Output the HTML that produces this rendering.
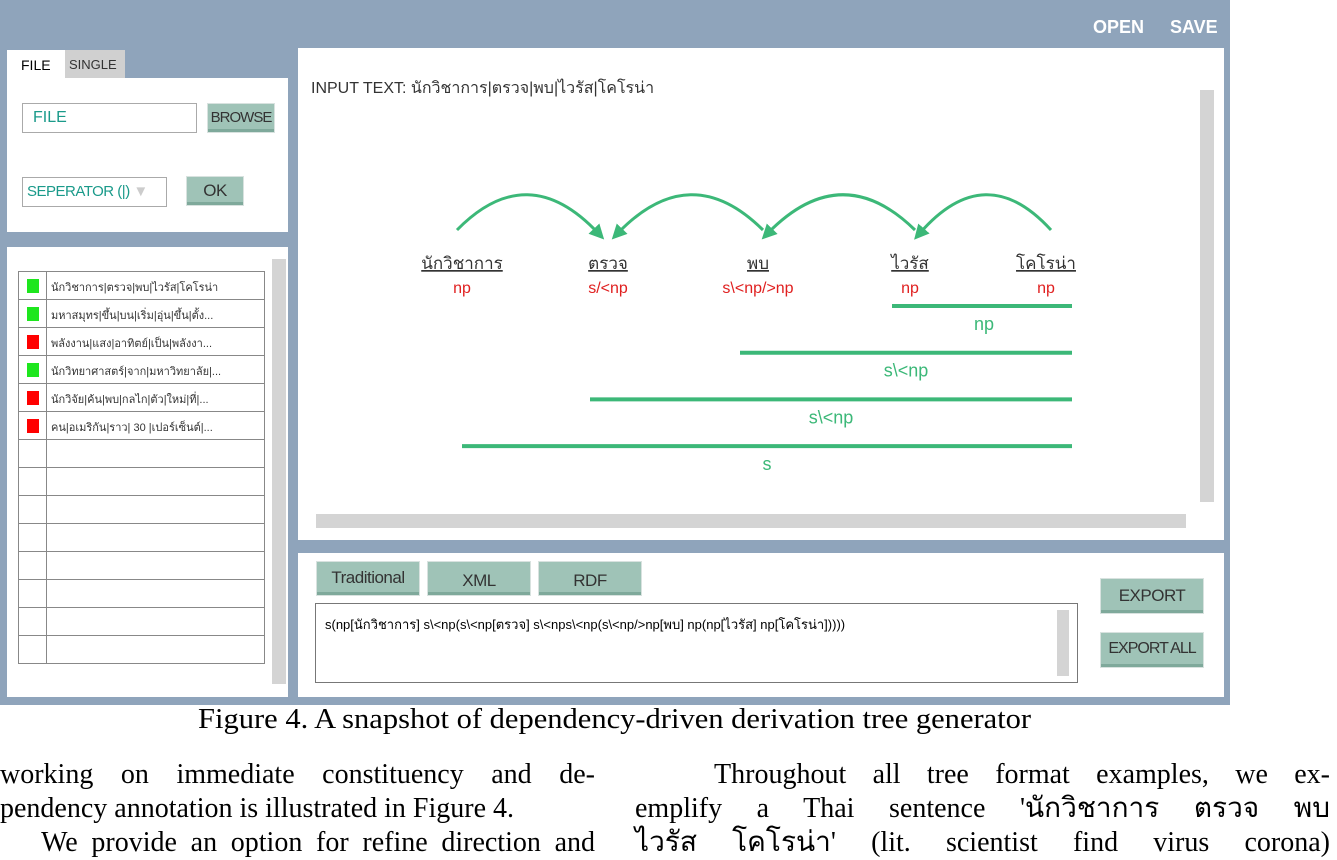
<!DOCTYPE html>
<html><head><meta charset="utf-8"><style>
body{margin:0;width:1337px;height:836px;background:#fff;position:relative;overflow:hidden;font-family:"Liberation Sans","Noto Sans CJK SC",sans-serif}
.a{position:absolute;box-sizing:border-box}
.btn{background:#9fc3b7;border:1px solid #d8e2df;color:#333;font-size:17px;text-align:center;box-shadow:inset 0 -3px 0 #7fa99b;white-space:nowrap;letter-spacing:-0.5px}
.serif{font-family:"Liberation Serif","Noto Serif CJK SC",serif;color:#000}
.row{position:absolute;box-sizing:border-box;left:11px;width:247px;height:29px;border:1px solid #888;font-size:11px;background:#fff}
.jl{text-align:justify;text-align-last:justify;white-space:nowrap;height:34px}
</style></head><body>
<div class="a" style="left:0;top:0;width:1230px;height:705px;background:#8fa4bb"></div>
<div class="a" style="left:1093px;top:17px;color:#fff;font-size:18px;font-weight:bold">OPEN</div>
<div class="a" style="left:1170px;top:17px;color:#fff;font-size:18px;font-weight:bold">SAVE</div>
<div class="a" style="left:7px;top:50px;width:58px;height:28px;background:#fff;font-size:14px;padding:7px 0 0 14px">FILE</div>
<div class="a" style="left:65px;top:50px;width:60px;height:28px;background:#d0d0d0;font-size:13px;padding:7px 0 0 4px;color:#333">SINGLE</div>
<div class="a" style="left:7px;top:78px;width:281px;height:154px;background:#fff">
 <div class="a" style="left:15px;top:25px;width:175px;height:30px;border:1px solid #aaa;color:#1a9a8a;font-size:16px;padding:5px 10px">FILE</div>
 <div class="a btn" style="left:200px;top:25px;width:68px;height:30px;padding-top:5px;font-size:15px;letter-spacing:-1px">BROWSE</div>
 <div class="a" style="left:15px;top:99px;width:145px;height:30px;border:1px solid #aaa;color:#1a9a8a;font-size:15px;padding:5px 4px;white-space:nowrap;letter-spacing:-0.5px">SEPERATOR (|) <span style="color:#ccc">▼</span></div>
 <div class="a btn" style="left:179px;top:98px;width:58px;height:30px;padding-top:4px">OK</div>
</div>
<div class="a" style="left:7px;top:247px;width:281px;height:450px;background:#fff">
 <div class="a" style="left:265px;top:12px;width:14px;height:425px;background:#d4d4d4"></div>
 <div id="rows"></div>
</div>
<div class="a" style="left:298px;top:48px;width:926px;height:492px;background:#fff">
 <div class="a" style="left:13px;top:28px;font-size:16px;color:#333">INPUT TEXT: นักวิชาการ|ตรวจ|พบ|ไวรัส|โคโรน่า</div>
 <div class="a" style="left:902px;top:42px;width:14px;height:412px;background:#d4d4d4"></div>
 <div class="a" style="left:18px;top:466px;width:870px;height:14px;background:#d4d4d4"></div>
</div>
<svg class="a" id="tree" style="left:0;top:0" width="1230" height="540"></svg>
<div class="a" style="left:298px;top:553px;width:926px;height:144px;background:#fff">
 <div class="a btn" style="left:18px;top:8px;width:104px;height:35px;padding-top:6px">Traditional</div>
 <div class="a btn" style="left:129px;top:8px;width:104px;height:35px;padding-top:9px">XML</div>
 <div class="a btn" style="left:240px;top:8px;width:104px;height:35px;padding-top:9px">RDF</div>
 <div class="a" style="left:17px;top:50px;width:763px;height:80px;border:1px solid #777;font-size:13px;padding:10px 9px">s(np[นักวิชาการ] s\&lt;np(s\&lt;np[ตรวจ] s\&lt;nps\&lt;np(s\&lt;np/&gt;np[พบ] np(np[ไวรัส] np[โคโรน่า]))))
  <div class="a" style="right:8px;top:6px;width:12px;height:66px;background:#d4d4d4"></div></div>
 <div class="a btn" style="left:802px;top:25px;width:104px;height:36px;padding-top:7px">EXPORT</div>
 <div class="a btn" style="left:802px;top:79px;width:104px;height:36px;padding-top:7px;font-size:16px;letter-spacing:-1px">EXPORT ALL</div>
</div>
<div class="a serif" style="left:198px;top:704px;font-size:28px;white-space:nowrap;transform:scaleX(1.09);transform-origin:left top">Figure 4. A snapshot of dependency-driven derivation tree generator</div>
<div class="a serif" style="left:0;top:758px;width:595px;font-size:28px;line-height:34px">
 <div class="jl">working on immediate constituency and de-</div>
 <div style="white-space:nowrap;height:34px">pendency annotation is illustrated in Figure 4.</div>
 <div class="jl">&nbsp;&nbsp;&nbsp;We provide an option for refine direction and</div></div>
<div class="a serif" style="left:635px;top:758px;width:695px;font-size:28px;line-height:34px">
 <div class="jl">&nbsp;&nbsp;&nbsp;Throughout all tree format examples, we ex-</div>
 <div class="jl">emplify a Thai sentence 'นักวิชาการ ตรวจ พบ</div>
 <div class="jl">ไวรัส โคโรน่า' (lit. scientist find virus corona)</div></div>
<script>
const listItems=["นักวิชาการ|ตรวจ|พบ|ไวรัส|โคโรน่า","มหาสมุทร|ขึ้น|บน|เริ่ม|อุ่น|ขึ้น|ตั้ง...","พลังงาน|แสง|อาทิตย์|เป็น|พลังงา...","นักวิทยาศาสตร์|จาก|มหาวิทยาลัย|...","นักวิจัย|ค้น|พบ|กลไก|ตัว|ใหม่|ที่|...","คน|อเมริกัน|ราว| 30 |เปอร์เซ็นต์|..."];
const listStatus=["ok","ok","bad","ok","bad","bad"];
const words=["นักวิชาการ","ตรวจ","พบ","ไวรัส","โคโรน่า"];
const cats=["np","s/<np","s\\<np/>np","np","np"];
const spanFrom=[3,2,1,0];
const spanLabels=["np","s\\<np","s\\<np","s"];
const arcsFrom=[0,2,3,4];const arcsTo=[1,1,2,3];
const rows=document.getElementById('rows');
for(let i=0;i<14;i++){const r=document.createElement('div');r.className='row';r.style.top=(24+i*28)+'px';


let s='<div style="position:absolute;left:27px;top:0;bottom:0;border-left:1px solid #888"></div>';
if(i<listItems.length){s+='<div style="position:absolute;left:8px;top:7px;width:12px;height:14px;background:'+(listStatus[i]=='ok'?'#1ee61e':'#f00')+'"></div><div style="position:absolute;left:32px;top:6px;white-space:nowrap;color:#333">'+listItems[i]+'</div>';}
r.innerHTML=s;rows.appendChild(r);}
const svg=document.getElementById('tree');const NS='http://www.w3.org/2000/svg';
const x0=462,dx=146,wy=262;
const xs=i=>[462,608,758,910,1046][i]??x0+i*dx;
const right=1072;
function el(t,a){const e=document.createElementNS(NS,t);for(const k in a)e.setAttribute(k,a[k]);svg.appendChild(e);return e;}
svg.innerHTML='<defs><marker id="ah" markerWidth="5" markerHeight="5" refX="2" refY="2.5" orient="auto"><path d="M0,0L5,2.5L0,5z" fill="#3cb878"/></marker></defs>';
words.forEach((w,i)=>{const t=el('text',{x:xs(i),y:wy+7,'text-anchor':'middle','font-size':17,fill:'#333','text-decoration':'underline'});t.textContent=w;


const c=el('text',{x:xs(i),y:wy+31,'text-anchor':'middle','font-size':16,fill:'#e02020'});c.textContent=cats[i];

});
arcsFrom.forEach((f,k)=>{const to=arcsTo[k];const dir=to>f?1:-1;const a=xs(f)-5*dir,b=xs(to)-10*dir;const p=el('path',{d:`M${a},230 Q${(a+b)/2},158 ${b},233`,fill:'none',stroke:'#3cb878','stroke-width':3,'marker-end':'url(#ah)'});

});
spanFrom.forEach((f,k)=>{const y=306+k*46.7;const st=f==0?xs(f):xs(f)-18;const l=el('line',{x1:st,x2:right,y1:y,y2:y,stroke:'#3cb878','stroke-width':4});


const t=el('text',{x:(st+right)/2+(k==0?2:0),y:y+24,'text-anchor':'middle','font-size':18,fill:'#3cb878'});t.textContent=spanLabels[k];

});
</script>
</body></html>
